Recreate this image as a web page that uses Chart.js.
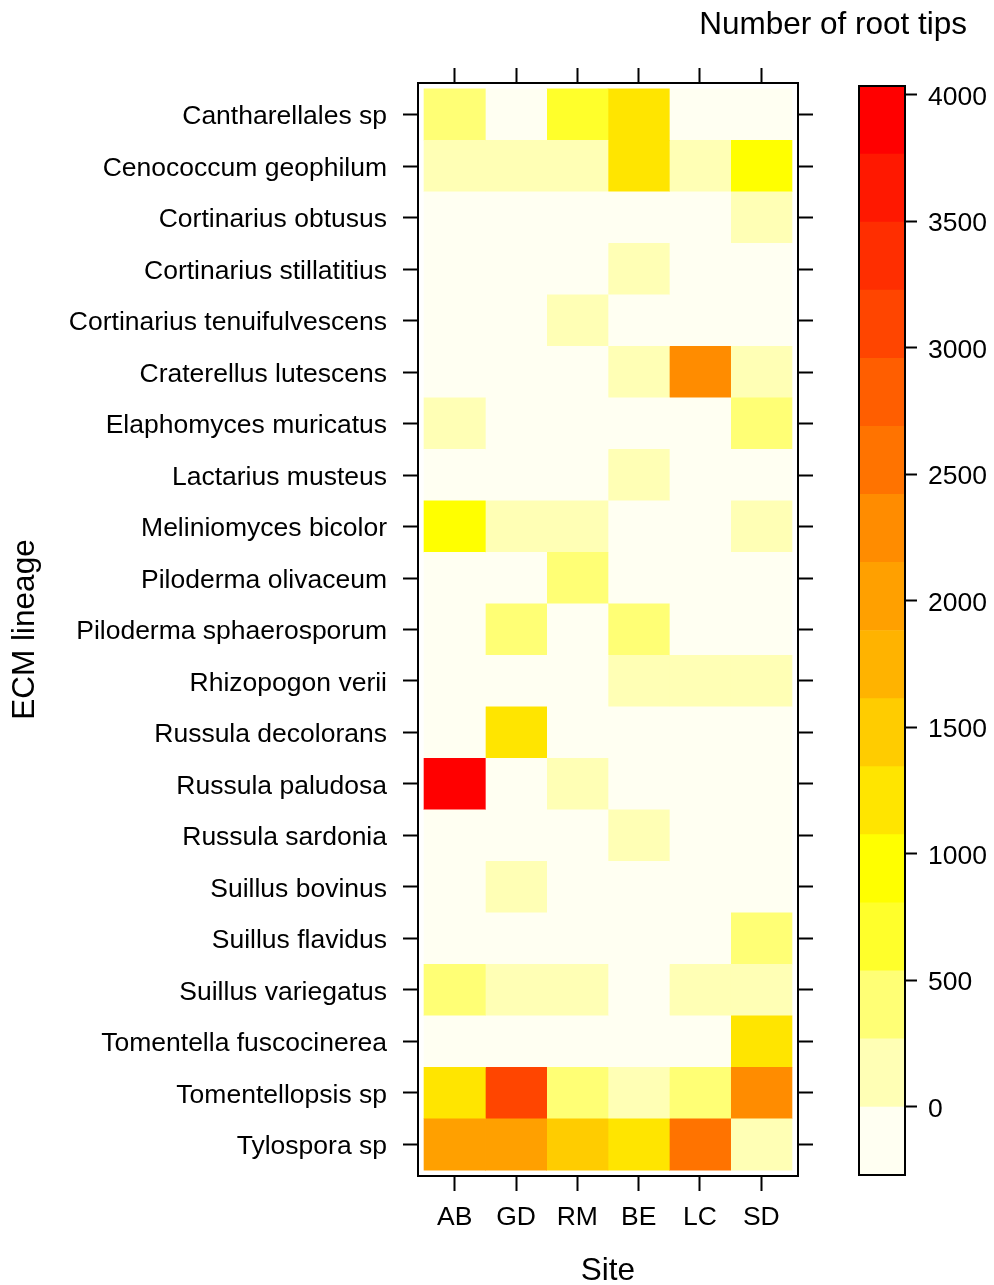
<!DOCTYPE html>
<html>
<head>
<meta charset="utf-8">
<title>ECM lineage root tips by site</title>
<script src="https://cdn.jsdelivr.net/npm/chart.js@4.4.1/dist/chart.umd.min.js"></script>
<style>
  html, body { margin: 0; padding: 0; background: #fff; }
  #wrap { position: relative; width: 994px; height: 1285px; }
  #wrap canvas { position: absolute; top: 0; left: 0; }
</style>
</head>
<body>
<div id="wrap">
  <canvas id="heat" width="830" height="1285"></canvas>
  <canvas id="key" width="994" height="1285"></canvas>
</div>
<script>
var sites = ['AB', 'GD', 'RM', 'BE', 'LC', 'SD'];
var lineages = [
  'Cantharellales sp', 'Cenococcum geophilum', 'Cortinarius obtusus',
  'Cortinarius stillatitius', 'Cortinarius tenuifulvescens', 'Craterellus lutescens',
  'Elaphomyces muricatus', 'Lactarius musteus', 'Meliniomyces bicolor',
  'Piloderma olivaceum', 'Piloderma sphaerosporum', 'Rhizopogon verii',
  'Russula decolorans', 'Russula paludosa', 'Russula sardonia',
  'Suillus bovinus', 'Suillus flavidus', 'Suillus variegatus',
  'Tomentella fuscocinerea', 'Tomentellopsis sp', 'Tylospora sp'
];

// root tips counted per site, same order as lineages
var countsAB = [420, 150, 0, 0, 0, 0, 140, 0, 960, 0, 0, 0, 0, 3870, 0, 0, 0, 330, 0, 1240, 1960];
var countsGD = [0, 130, 0, 0, 0, 0, 0, 0, 180, 0, 350, 0, 1180, 0, 0, 110, 0, 160, 0, 3080, 2010];
var countsRM = [690, 160, 0, 0, 150, 0, 0, 0, 140, 370, 0, 0, 0, 150, 0, 0, 0, 140, 0, 410, 1520];
var countsBE = [1210, 1250, 0, 140, 0, 170, 0, 120, 0, 0, 420, 160, 0, 0, 130, 0, 0, 0, 0, 190, 1290];
var countsLC = [0, 110, 0, 0, 0, 2280, 0, 0, 0, 0, 0, 130, 0, 0, 0, 0, 0, 120, 0, 440, 2580];
var countsSD = [0, 940, 120, 0, 0, 190, 390, 0, 110, 0, 0, 100, 0, 0, 0, 0, 380, 170, 1150, 2300, 230];

// colour key: 16 intervals
var keyBreaks = [-269, 0, 269, 538, 807, 1076, 1345, 1614, 1883, 2152, 2421, 2690, 2959, 3228, 3497, 3766, 4035];
var keyColors = ['#FFFFF2', '#FFFFB5', '#FFFF75', '#FFFF2B', '#FFFF00', '#FFE500', '#FFCC00', '#FFB300',
                 '#FFA000', '#FF8C00', '#FF7300', '#FF5E00', '#FF4500', '#FF2E00', '#FF1800', '#FF0000'];
var keyTicks = [0, 500, 1000, 1500, 2000, 2500, 3000, 3500, 4000];

var FONT = '"Liberation Sans", Arial, Helvetica, sans-serif';
var labelFont = {family: FONT, size: 26.5};
var titleFont = {family: FONT, size: 31.5};

function cellColor(v) {
  for (var k = 1; k < keyBreaks.length; k++) {
    if (v <= keyBreaks[k]) return keyColors[k - 1];
  }
  return keyColors[keyColors.length - 1];
}

function fixedTicks(values) {
  return function(scale) {
    scale.ticks = values.map(function(v) { return {value: v}; });
  };
}

var siteIdx = sites.map(function(s, i) { return i; });
var rowIdx = lineages.map(function(s, i) { return i; });

var tickGrid = {drawOnChartArea: false, drawTicks: true, tickLength: 15, tickWidth: 2, tickColor: '#000', offset: false};
var frameLine = {display: true, color: '#000', width: 2};

var siteCounts = [countsAB, countsGD, countsRM, countsBE, countsLC, countsSD];
var heatSets = siteCounts.map(function(counts, s) {
  return {
    label: sites[s],
    data: counts.map(function(v, r) { return {x: s, y: [r - 0.5, r + 0.5]}; }),
    backgroundColor: counts.map(cellColor),
    borderWidth: 0,
    barPercentage: 1,
    categoryPercentage: 1,
    grouped: false
  };
});

new Chart('heat', {
  type: 'bar',
  data: {datasets: heatSets},
  options: {
    responsive: false,
    animation: false,
    layout: {padding: {top: 68, right: 17, left: 0, bottom: 0}},
    plugins: {legend: {display: false}, tooltip: {enabled: false}},
    scales: {
      x: {
        type: 'linear', position: 'bottom', min: -0.598, max: 5.598, bounds: 'data', offset: false,
        afterBuildTicks: fixedTicks(siteIdx),
        ticks: {
          callback: function(v) { return sites[v]; },
          font: labelFont, color: '#000', padding: 11, autoSkip: false, maxRotation: 0
        },
        grid: tickGrid,
        border: frameLine,
        title: {display: true, text: 'Site', font: titleFont, color: '#000', padding: {top: 0, bottom: -5}},
        afterFit: function(s) { s.height = 109; }
      },
      x2: {
        type: 'linear', axis: 'x', position: 'top', min: -0.598, max: 5.598, bounds: 'data', offset: false,
        afterBuildTicks: fixedTicks(siteIdx),
        ticks: {display: false},
        grid: tickGrid,
        border: frameLine
      },
      y: {
        type: 'linear', position: 'left', reverse: true, min: -0.612, max: 20.612, bounds: 'data',
        afterBuildTicks: fixedTicks(rowIdx),
        ticks: {
          callback: function(v) { return lineages[v]; },
          font: labelFont, color: '#000', padding: 16, autoSkip: false, labelOffset: 2.5
        },
        grid: tickGrid,
        border: frameLine,
        title: {display: true, text: 'ECM lineage', font: titleFont, color: '#000', padding: {top: 6, bottom: 0}},
        afterFit: function(s) { s.width = 418; }
      },
      y2: {
        type: 'linear', axis: 'y', position: 'right', reverse: true, min: -0.612, max: 20.612, bounds: 'data',
        afterBuildTicks: fixedTicks(rowIdx),
        ticks: {display: false},
        grid: tickGrid,
        border: frameLine
      }
    }
  }
});

// outline around the colour key, plus its heading
var keyFrame = {
  id: 'keyFrame',
  afterDatasetsDraw: function(chart) {
    var a = chart.chartArea, ctx = chart.ctx;
    ctx.save();
    ctx.strokeStyle = '#000';
    ctx.lineWidth = 2;
    ctx.strokeRect(a.left, a.top, a.right - a.left, a.bottom - a.top);
    ctx.restore();
  },
  afterDraw: function(chart) {
    var ctx = chart.ctx;
    ctx.save();
    ctx.font = titleFont.size + 'px ' + FONT;
    ctx.fillStyle = '#000';
    ctx.textAlign = 'right';
    ctx.textBaseline = 'middle';
    ctx.fillText('Number of root tips', chart.chartArea.right + 62, 25);
    ctx.restore();
  }
};

var keySets = keyColors.map(function(c, k) {
  return {
    data: [[keyBreaks[k], keyBreaks[k + 1]]],
    backgroundColor: c,
    borderWidth: 0,
    barPercentage: 1,
    categoryPercentage: 1,
    grouped: false
  };
});

new Chart('key', {
  type: 'bar',
  data: {labels: [''], datasets: keySets},
  options: {
    responsive: false,
    animation: false,
    layout: {padding: {left: 859, top: 86, bottom: 110, right: 0}},
    plugins: {legend: {display: false}, tooltip: {enabled: false}},
    scales: {
      x: {display: false},
      y: {
        position: 'right', min: keyBreaks[0], max: keyBreaks[keyBreaks.length - 1], bounds: 'data',
        afterBuildTicks: fixedTicks(keyTicks),
        ticks: {
          callback: function(v) { return String(v); },
          font: labelFont, color: '#000', padding: 11, labelOffset: 2.5
        },
        grid: {drawOnChartArea: false, drawTicks: true, tickLength: 12, tickWidth: 2, tickColor: '#000'},
        border: {display: false},
        afterFit: function(s) { s.width = 89; }
      }
    }
  },
  plugins: [keyFrame]
});
</script>
</body>
</html>
